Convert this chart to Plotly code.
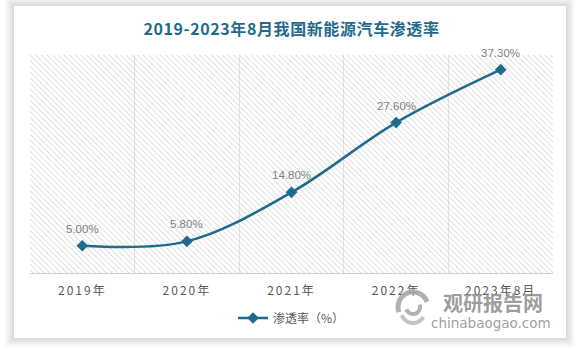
import math
import plotly.graph_objects as go

# Data
categories = ["2019年", "2020年", "2021年", "2022年", "2023年8月"]
penetration = [5.00, 5.80, 14.80, 27.60, 37.30]
series_name = "渗透率（%）"
title_text = "2019-2023年8月我国新能源汽车渗透率"

W, H = 577, 350
L, R, T, B = 30, 24, 55, 77
Y_MAX = 40
LINE_COLOR = "#1f6b8e"
FONT = "Noto Sans CJK SC, Noto Sans, sans-serif"

plot_w = W - L - R
plot_h = H - T - B


def px(x):
    return (x - L) / plot_w


def py(y):
    return (H - B - y) / plot_h


fig = go.Figure()

# Hatched background across every category column
fig.add_trace(go.Bar(
    x=categories,
    y=[Y_MAX] * len(categories),
    width=1,
    marker=dict(
        color="rgba(0,0,0,0)",
        line=dict(width=0),
        pattern=dict(shape="\\", fgcolor="#cdcdcd", bgcolor="rgba(0,0,0,0)",
                     size=4, solidity=0.22, fillmode="replace"),
    ),
    hoverinfo="skip",
    showlegend=False,
))

fig.add_trace(go.Scatter(
    x=categories,
    y=penetration,
    mode="lines+markers",
    name=series_name,
    line=dict(color=LINE_COLOR, width=2.5, shape="spline", smoothing=1),
    marker=dict(symbol="diamond", size=9, color=LINE_COLOR),
))

annotations = []
for c, v in zip(categories, penetration):
    annotations.append(dict(
        x=c, y=v, xref="x", yref="y", text=f"{v:.2f}%", showarrow=False,
        yshift=17, font=dict(family="Liberation Sans, Arial", size=11.5, color="#7f7f7f"),
    ))

# Publisher watermark
annotations.append(dict(
    x=px(493), y=py(302), xref="paper", yref="paper", xanchor="center", yanchor="middle",
    text="<b>观研报告网</b>", showarrow=False,
    font=dict(family=FONT, size=20, color="rgba(140,140,140,0.85)"),
))
annotations.append(dict(
    x=px(491), y=py(323), xref="paper", yref="paper", xanchor="center", yanchor="middle",
    text="chinabaogao.com", showarrow=False,
    font=dict(family="DejaVu Sans, sans-serif", size=13.5, color="rgba(140,140,140,0.85)"),
))

shapes = []
# Card drop shadow
for i in range(1, 10):
    shapes.append(dict(
        type="rect", xref="paper", yref="paper", layer="below",
        x0=px(14 - i), x1=px(566 + i), y0=py(338 + i), y1=py(6 - i),
        fillcolor="rgba(0,0,0,0.016)", line=dict(width=0),
    ))
shapes.append(dict(
    type="rect", xref="paper", yref="paper", layer="below",
    x0=px(14), x1=px(566), y0=py(338), y1=py(6),
    fillcolor="white", line=dict(width=0),
))


# Watermark logo swirl
def arc_path(cx, cy, r, a0, a1, n=24):
    pts = []
    for k in range(n + 1):
        a = math.radians(a0 + (a1 - a0) * k / n)
        pts.append((px(cx + r * math.cos(a)), py(cy - r * math.sin(a))))
    return "M " + " L ".join(f"{x:.5f},{y:.5f}" for x, y in pts)


shapes.append(dict(type="path", xref="paper", yref="paper", path=arc_path(413, 307, 15, 20, 200),
                   line=dict(color="rgba(165,165,165,0.85)", width=5)))
shapes.append(dict(type="path", xref="paper", yref="paper", path=arc_path(413, 307, 7, 200, 380),
                   line=dict(color="rgba(165,165,165,0.85)", width=4)))
shapes.append(dict(type="path", xref="paper", yref="paper", path=arc_path(413, 311, 12, 200, 330),
                   line=dict(color="rgba(185,185,185,0.85)", width=4)))

fig.update_layout(
    width=W, height=H,
    margin=dict(l=L, r=R, t=T, b=B, pad=0),
    paper_bgcolor="white",
    plot_bgcolor="rgba(0,0,0,0)",
    font=dict(family=FONT, color="#595959"),
    title=dict(
        text=f"<b>{title_text}</b>", x=0.5, xref="paper", xanchor="center",
        y=1 - 29 / H, yref="container", yanchor="middle",
        font=dict(family=FONT, size=16, color="#1f6b8e"),
    ),
    xaxis=dict(
        type="category", tickson="boundaries", showgrid=True, gridcolor="#e3e3e3", gridwidth=1,
        showline=True, linecolor="#d0d0d0", linewidth=1, ticks="",
        tickfont=dict(family=FONT, size=12, color="#595959"), ticklabelstandoff=7,
        range=[-0.5, len(categories) - 0.5], fixedrange=True,
    ),
    yaxis=dict(range=[0, Y_MAX], showgrid=False, zeroline=False, showticklabels=False,
               showline=False, fixedrange=True),
    bargap=0,
    showlegend=True,
    legend=dict(orientation="h", x=0.5, xanchor="center", y=py(318), yanchor="middle",
                font=dict(family=FONT, size=12, color="#595959"), bgcolor="rgba(0,0,0,0)"),
    annotations=annotations,
    shapes=shapes,
)

post = """
var gd = document.getElementById('{plot_id}');
function spaceText() {
  gd.querySelectorAll('.xtick text').forEach(function (t) { t.style.letterSpacing = '2px'; });
  gd.querySelectorAll('.gtitle').forEach(function (t) { t.style.letterSpacing = '0.6px'; });
}
spaceText();
gd.on('plotly_afterplot', spaceText);
"""

fig.write_html("out.html", post_script=post, config={"displayModeBar": False})
